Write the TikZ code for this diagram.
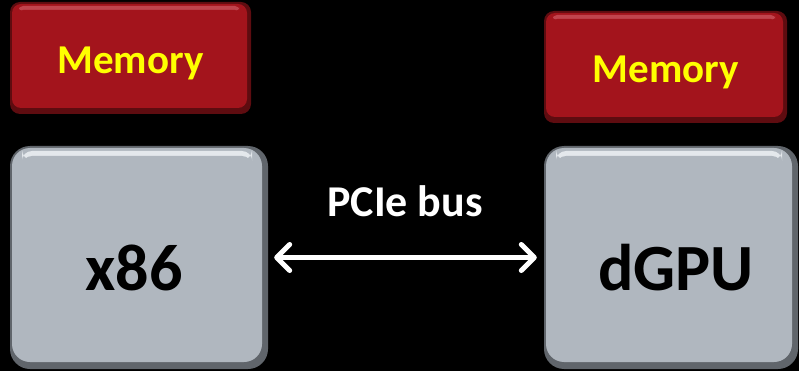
\documentclass[tikz,border=0pt]{standalone}
\usepackage{fontspec}
\setmainfont{Carlito}
\usetikzlibrary{arrows.meta}
\definecolor{memBase}{HTML}{A3141C}
\definecolor{memDark}{HTML}{5E0C10}
\definecolor{memHL}{HTML}{C8505A}
\definecolor{cpuBase}{HTML}{B0B7BF}
\definecolor{cpuDark}{HTML}{60656B}
\definecolor{cpuHL}{HTML}{E4E8EC}
\definecolor{memText}{HTML}{FFFF00}
\tikzset{
  membox/.style={rounded corners=10pt, fill=memDark, inner sep=0pt,
    path picture={
      \fill[memBase, rounded corners=9pt]
        ([xshift=2pt,yshift=-2pt]path picture bounding box.north west) rectangle
        ([xshift=-4pt,yshift=6pt]path picture bounding box.south east);
      \fill[memHL, opacity=0.8, rounded corners=4pt]
        ([xshift=9pt,yshift=-4pt]path picture bounding box.north west) rectangle
        ([xshift=-12pt,yshift=-9pt]path picture bounding box.north east);
      \fill[memBase, rounded corners=4pt]
        ([xshift=9pt,yshift=-8pt]path picture bounding box.north west) rectangle
        ([xshift=-12pt,yshift=-12pt]path picture bounding box.north east);
    }},
  cpubox/.style={rounded corners=20pt, fill=cpuDark, inner sep=0pt,
    path picture={
      \fill[cpuBase, rounded corners=18pt]
        ([xshift=2pt,yshift=-2pt]path picture bounding box.north west) rectangle
        ([xshift=-6pt,yshift=7pt]path picture bounding box.south east);
      \fill[cpuHL, rounded corners=10pt]
        ([xshift=12pt,yshift=-5pt]path picture bounding box.north west) rectangle
        ([xshift=-16pt,yshift=-14pt]path picture bounding box.north east);
      \fill[cpuBase, rounded corners=10pt]
        ([xshift=12pt,yshift=-10pt]path picture bounding box.north west) rectangle
        ([xshift=-16pt,yshift=-20pt]path picture bounding box.north east);
    }},
  memlabel/.style={anchor=base, text=memText, font=\fontsize{41}{48}\selectfont\bfseries, inner sep=0pt},
  cpulabel/.style={anchor=base, text=black, font=\fontsize{66}{78}\selectfont\bfseries, inner sep=0pt},
  buslabel/.style={anchor=base, text=white, font=\fontsize{44}{52}\selectfont\bfseries, inner sep=0pt},
  bus/.style={draw=white, line width=5pt, line cap=round,
    {Straight Barb[length=13pt, width=26pt, line width=5pt, round]}-{Straight Barb[length=13pt, width=26pt, line width=5pt, round]},
    shorten <=6pt, shorten >=7pt}
}
\begin{document}
\begin{tikzpicture}[x=1pt,y=-1pt]
\fill[black] (0,0) rectangle (799,371);
\useasboundingbox (0,0) rectangle (799,371);
\node[membox, minimum width=241pt, minimum height=112pt] (mem1) at (130.5,58) {};
\node[membox, minimum width=243pt, minimum height=112pt] (mem2) at (665.5,67) {};
\node[cpubox, minimum width=258pt, minimum height=223pt] (cpu) at (139,257.5) {};
\node[cpubox, minimum width=254pt, minimum height=223pt] (gpu) at (671,257.5) {};
\node[memlabel] (mem1t) at (130.5,73.5) {Memory};
\node[memlabel] (mem2t) at (666,83) {Memory};
\node[cpulabel] (cput) at (134,290) {x86};
\node[cpulabel] (gput) at (676,290) {dGPU};
\node[buslabel] (bust) at (405,216.5) {PCIe bus};
\draw[bus] (cpu.east) -- (gpu.west);
\end{tikzpicture}
\end{document}
